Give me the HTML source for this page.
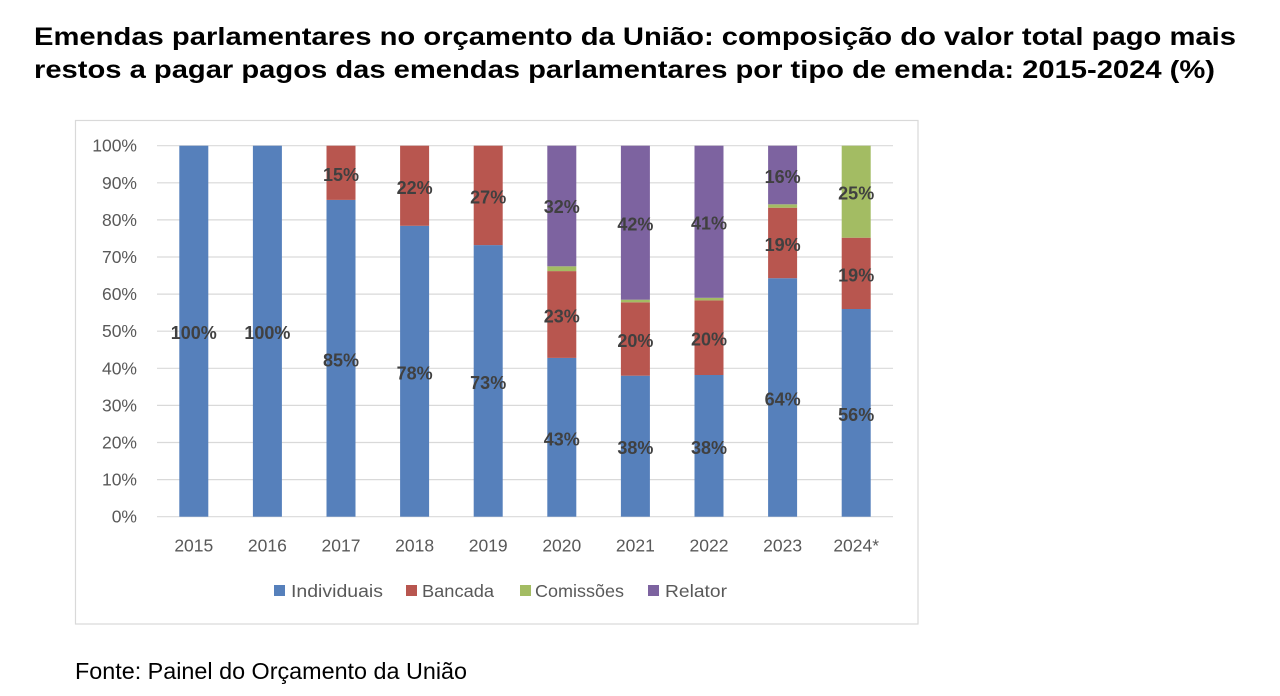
<!DOCTYPE html>
<html><head><meta charset="utf-8"><style>
html,body{margin:0;padding:0;background:#fff;width:1280px;height:696px;overflow:hidden}
svg{display:block}
text{font-family:"Liberation Sans",Arial,sans-serif}
</style></head><body>
<svg width="1280" height="696" viewBox="0 0 1280 696" xmlns="http://www.w3.org/2000/svg">
<rect width="1280" height="696" fill="#fff"/>
<text x="34" y="45" font-size="25" font-weight="bold" fill="#000" textLength="1202" lengthAdjust="spacingAndGlyphs">Emendas parlamentares no orçamento da União: composição do valor total pago mais</text>
<text x="34" y="78" font-size="25" font-weight="bold" fill="#000" textLength="1181" lengthAdjust="spacingAndGlyphs">restos a pagar pagos das emendas parlamentares por tipo de emenda: 2015-2024 (%)</text>
<rect x="75.5" y="120.5" width="842.5" height="503.5" fill="#fff" stroke="#d9d9d9" stroke-width="1.2"/>
<g stroke="#d9d9d9" stroke-width="1.2">
<line x1="157" x2="893" y1="516.7" y2="516.7"/>
<line x1="157" x2="893" y1="479.6" y2="479.6"/>
<line x1="157" x2="893" y1="442.5" y2="442.5"/>
<line x1="157" x2="893" y1="405.4" y2="405.4"/>
<line x1="157" x2="893" y1="368.3" y2="368.3"/>
<line x1="157" x2="893" y1="331.2" y2="331.2"/>
<line x1="157" x2="893" y1="294.1" y2="294.1"/>
<line x1="157" x2="893" y1="257.0" y2="257.0"/>
<line x1="157" x2="893" y1="219.9" y2="219.9"/>
<line x1="157" x2="893" y1="182.8" y2="182.8"/>
<line x1="157" x2="893" y1="145.7" y2="145.7"/>
</g>
<g font-size="17.5" fill="#595959" text-anchor="end">
<text x="137" y="522.7">0%</text>
<text x="137" y="485.6">10%</text>
<text x="137" y="448.5">20%</text>
<text x="137" y="411.4">30%</text>
<text x="137" y="374.3">40%</text>
<text x="137" y="337.2">50%</text>
<text x="137" y="300.1">60%</text>
<text x="137" y="263.0">70%</text>
<text x="137" y="225.9">80%</text>
<text x="137" y="188.8">90%</text>
<text x="137" y="151.7">100%</text>
</g>
<!-- bars: y(p)=516.7-3.71p -->
<g>
<!-- 2015 -->
<rect x="179.3" y="145.7" width="29" height="371" fill="#5680BB"/>
<!-- 2016 -->
<rect x="252.9" y="145.7" width="29" height="371" fill="#5680BB"/>
<!-- 2017 -->
<rect x="326.5" y="199.9" width="29" height="316.8" fill="#5680BB"/>
<rect x="326.5" y="145.7" width="29" height="54.2" fill="#B8564F"/>
<!-- 2018 -->
<rect x="400.1" y="225.8" width="29" height="290.9" fill="#5680BB"/>
<rect x="400.1" y="145.7" width="29" height="80.1" fill="#B8564F"/>
<!-- 2019 -->
<rect x="473.7" y="245.1" width="29" height="271.6" fill="#5680BB"/>
<rect x="473.7" y="145.7" width="29" height="99.4" fill="#B8564F"/>
<!-- 2020 -->
<rect x="547.3" y="357.9" width="29" height="158.8" fill="#5680BB"/>
<rect x="547.3" y="271.1" width="29" height="86.8" fill="#B8564F"/>
<rect x="547.3" y="266.3" width="29" height="4.8" fill="#A3BC63"/>
<rect x="547.3" y="145.7" width="29" height="120.6" fill="#7D63A0"/>
<!-- 2021 -->
<rect x="620.9" y="375.7" width="29" height="141" fill="#5680BB"/>
<rect x="620.9" y="302.3" width="29" height="73.4" fill="#B8564F"/>
<rect x="620.9" y="299.7" width="29" height="2.6" fill="#A3BC63"/>
<rect x="620.9" y="145.7" width="29" height="154" fill="#7D63A0"/>
<!-- 2022 -->
<rect x="694.5" y="375.0" width="29" height="141.7" fill="#5680BB"/>
<rect x="694.5" y="300.4" width="29" height="74.6" fill="#B8564F"/>
<rect x="694.5" y="297.8" width="29" height="2.6" fill="#A3BC63"/>
<rect x="694.5" y="145.7" width="29" height="152.1" fill="#7D63A0"/>
<!-- 2023 -->
<rect x="768.1" y="278.2" width="29" height="238.5" fill="#5680BB"/>
<rect x="768.1" y="207.7" width="29" height="70.5" fill="#B8564F"/>
<rect x="768.1" y="204.3" width="29" height="3.4" fill="#A3BC63"/>
<rect x="768.1" y="145.7" width="29" height="58.6" fill="#7D63A0"/>
<!-- 2024 -->
<rect x="841.7" y="309.0" width="29" height="207.7" fill="#5680BB"/>
<rect x="841.7" y="237.7" width="29" height="71.3" fill="#B8564F"/>
<rect x="841.7" y="145.7" width="29" height="92" fill="#A3BC63"/>
</g>
<g font-size="18" font-weight="bold" fill="#404040" text-anchor="middle">
<text x="193.8" y="339.2">100%</text>
<text x="267.4" y="339.2">100%</text>
<text x="341" y="366.3">85%</text>
<text x="341" y="180.8">15%</text>
<text x="414.6" y="379.3">78%</text>
<text x="414.6" y="193.8">22%</text>
<text x="488.2" y="388.9">73%</text>
<text x="488.2" y="203.4">27%</text>
<text x="561.8" y="445.3">43%</text>
<text x="561.8" y="322.5">23%</text>
<text x="561.8" y="213.0">32%</text>
<text x="635.4" y="454.2">38%</text>
<text x="635.4" y="347.0">20%</text>
<text x="635.4" y="230.7">42%</text>
<text x="709" y="453.8">38%</text>
<text x="709" y="345.7">20%</text>
<text x="709" y="229.7">41%</text>
<text x="782.6" y="405.4">64%</text>
<text x="782.6" y="250.9">19%</text>
<text x="782.6" y="183.0">16%</text>
<text x="856.2" y="420.8">56%</text>
<text x="856.2" y="281.3">19%</text>
<text x="856.2" y="199.7">25%</text>
</g>
<g font-size="17.5" fill="#595959" text-anchor="middle">
<text x="193.8" y="551.5">2015</text>
<text x="267.4" y="551.5">2016</text>
<text x="341" y="551.5">2017</text>
<text x="414.6" y="551.5">2018</text>
<text x="488.2" y="551.5">2019</text>
<text x="561.8" y="551.5">2020</text>
<text x="635.4" y="551.5">2021</text>
<text x="709" y="551.5">2022</text>
<text x="782.6" y="551.5">2023</text>
<text x="856.2" y="551.5">2024*</text>
</g>
<g font-size="17.5" fill="#595959">
<rect x="274" y="585" width="11" height="11" fill="#5680BB"/>
<text x="291" y="597" textLength="92" lengthAdjust="spacingAndGlyphs">Individuais</text>
<rect x="406" y="585" width="11" height="11" fill="#B8564F"/>
<text x="422" y="597" textLength="72" lengthAdjust="spacingAndGlyphs">Bancada</text>
<rect x="520" y="585" width="11" height="11" fill="#A3BC63"/>
<text x="535" y="597" textLength="89" lengthAdjust="spacingAndGlyphs">Comissões</text>
<rect x="648" y="585" width="11" height="11" fill="#7D63A0"/>
<text x="665" y="597" textLength="62" lengthAdjust="spacingAndGlyphs">Relator</text>
</g>
<text x="75" y="679" font-size="23" fill="#000" textLength="392" lengthAdjust="spacingAndGlyphs">Fonte: Painel do Orçamento da União</text>
</svg>
</body></html>
